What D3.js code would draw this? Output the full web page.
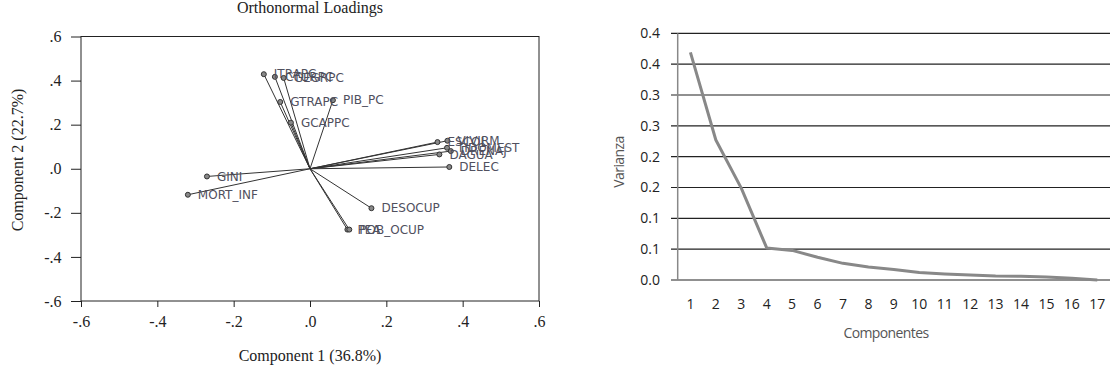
<!DOCTYPE html>
<html>
<head>
<meta charset="utf-8">
<script src="https://cdn.jsdelivr.net/npm/d3@7"></script>
<style>
  body { margin: 0; background: #fff; }
</style>
</head>
<body>
<svg id="chart" width="1115" height="369"></svg>
<script>
// loadings (component 1, component 2)
const loadVars = ["ITRAPC", "CTURPC", "GEGRPC", "GTRAPC", "PIB_PC", "GCAPPC",
  "ESCOL", "VIVIRM", "TIDOMEST", "DRENAJ", "DAGUA", "DELEC",
  "GINI", "MORT_INF", "DESOCUP", "PEA", "POB_OCUP"];
const comp1 = [-0.121, -0.092, -0.069, -0.078, 0.060, -0.050,
  0.334, 0.360, 0.359, 0.369, 0.339, 0.365,
  -0.270, -0.320, 0.161, 0.098, 0.103];
const comp2 = [0.429, 0.417, 0.412, 0.303, 0.311, 0.209,
  0.121, 0.127, 0.095, 0.080, 0.065, 0.008,
  -0.035, -0.118, -0.179, -0.276, -0.276];
const loadTicks = [-0.6, -0.4, -0.2, 0, 0.2, 0.4, 0.6];
const loadTickLabels = ["-.6", "-.4", "-.2", ".0", ".2", ".4", ".6"];

// scree plot
const componentes = [1, 2, 3, 4, 5, 6, 7, 8, 9, 10, 11, 12, 13, 14, 15, 16, 17];
const varianza = [0.369, 0.227, 0.149, 0.052, 0.048, 0.037, 0.027, 0.021, 0.017,
  0.012, 0.0097, 0.008, 0.0065, 0.006, 0.005, 0.003, 0.0];
const varTicks = [0, 0.05, 0.1, 0.15, 0.2, 0.25, 0.3, 0.35, 0.4];
const varTickLabels = ["0.0", "0.1", "0.1", "0.2", "0.2", "0.3", "0.3", "0.4", "0.4"];

const svg = d3.select("#chart");
const serif = "'Liberation Serif', 'Times New Roman', serif";

// ---------- left: orthonormal loadings ----------
const x = d3.scaleLinear().domain([-0.6, 0.6]).range([81, 539]);
const y = d3.scaleLinear().domain([-0.6, 0.6]).range([301, 36.5]);

svg.append("text")
  .attr("x", 310).attr("y", 13)
  .attr("text-anchor", "middle")
  .attr("font-family", serif).attr("font-size", "16px")
  .attr("fill", "#222")
  .text("Orthonormal Loadings");

svg.append("rect")
  .attr("x", x(-0.6)).attr("y", y(0.6))
  .attr("width", x(0.6) - x(-0.6)).attr("height", y(-0.6) - y(0.6))
  .attr("fill", "none").attr("stroke", "#222").attr("stroke-width", 1);

const xAxis = svg.append("g")
  .attr("transform", `translate(0,${y(-0.6)})`)
  .call(d3.axisBottom(x).tickValues(loadTicks).tickSize(6)
    .tickFormat((d, i) => loadTickLabels[i]));
const yAxis = svg.append("g")
  .attr("transform", `translate(${x(-0.6)},0)`)
  .call(d3.axisLeft(y).tickValues(loadTicks).tickSize(10)
    .tickFormat((d, i) => loadTickLabels[i]));
[xAxis, yAxis].forEach(g => {
  g.select(".domain").remove();
  g.selectAll("line").attr("stroke", "#222");
  g.selectAll("text").attr("font-family", serif).attr("font-size", "16px").attr("fill", "#222");
});
xAxis.selectAll("text").attr("dy", "1.05em");
yAxis.selectAll("text").attr("dx", "-0.4em");

svg.append("text")
  .attr("x", 310).attr("y", 361)
  .attr("text-anchor", "middle")
  .attr("font-family", serif).attr("font-size", "16px").attr("fill", "#222")
  .text("Component 1 (36.8%)");

svg.append("text")
  .attr("transform", "translate(23,160) rotate(-90)")
  .attr("text-anchor", "middle")
  .attr("font-family", serif).attr("font-size", "16px").attr("fill", "#222")
  .text("Component 2 (22.7%)");

const loads = loadVars.map((v, i) => ({ name: v, c1: comp1[i], c2: comp2[i] }));

svg.append("g").selectAll("line")
  .data(loads).enter().append("line")
  .attr("x1", x(0)).attr("y1", y(0))
  .attr("x2", d => x(d.c1)).attr("y2", d => y(d.c2))
  .attr("stroke", "#333").attr("stroke-width", 1);

svg.append("g").selectAll("circle")
  .data(loads).enter().append("circle")
  .attr("cx", d => x(d.c1)).attr("cy", d => y(d.c2))
  .attr("r", 2.5)
  .attr("fill", "#888").attr("stroke", "#333").attr("stroke-width", 1);

svg.append("g").selectAll("text")
  .data(loads).enter().append("text")
  .attr("x", d => x(d.c1) + 10).attr("y", d => y(d.c2))
  .attr("dy", "0.35em")
  .attr("font-family", "'DejaVu Sans', Verdana, sans-serif")
  .attr("font-size", "12px")
  .attr("fill", "#50505e")
  .text(d => d.name);

// ---------- right: varianza por componente ----------
const xs = d3.scalePoint().domain(componentes).range([677.7, 1110]).padding(0.5);
const ys = d3.scaleLinear().domain([0, 0.4]).range([280, 33.3]);
const sans = "'Open Sans', sans-serif";

svg.append("g").selectAll("line")
  .data(varTicks).enter().append("line")
  .attr("x1", 671).attr("x2", 1110)
  .attr("y1", d => ys(d)).attr("y2", d => ys(d))
  .attr("stroke", "#222").attr("stroke-width", 1.2);

svg.append("line")
  .attr("x1", 677.7).attr("x2", 677.7)
  .attr("y1", ys(0.4)).attr("y2", ys(0))
  .attr("stroke", "#888").attr("stroke-width", 1.5);

svg.append("g").selectAll("text")
  .data(varTicks).enter().append("text")
  .attr("x", 660).attr("y", d => ys(d))
  .attr("dy", "0.35em")
  .attr("text-anchor", "end")
  .attr("font-family", sans).attr("font-size", "14px").attr("fill", "#222")
  .text((d, i) => varTickLabels[i]);

svg.append("g").selectAll("text")
  .data(componentes).enter().append("text")
  .attr("x", d => xs(d)).attr("y", 309)
  .attr("text-anchor", "middle")
  .attr("font-family", sans).attr("font-size", "14px").attr("fill", "#222")
  .text(d => d);

svg.append("path")
  .datum(componentes.map((c, i) => [c, varianza[i]]))
  .attr("fill", "none")
  .attr("stroke", "#888").attr("stroke-width", 3)
  .attr("stroke-linejoin", "round")
  .attr("d", d3.line().x(d => xs(d[0])).y(d => ys(d[1])));

svg.append("text")
  .attr("x", 886).attr("y", 338)
  .attr("text-anchor", "middle")
  .attr("font-family", sans).attr("font-size", "14px").attr("fill", "#555")
  .attr("letter-spacing", "-0.6px")
  .text("Componentes");

svg.append("text")
  .attr("transform", "translate(624,162) rotate(-90)")
  .attr("text-anchor", "middle")
  .attr("font-family", sans).attr("font-size", "14px").attr("fill", "#555")
  .attr("letter-spacing", "-0.6px")
  .text("Varianza");
</script>
</body>
</html>
